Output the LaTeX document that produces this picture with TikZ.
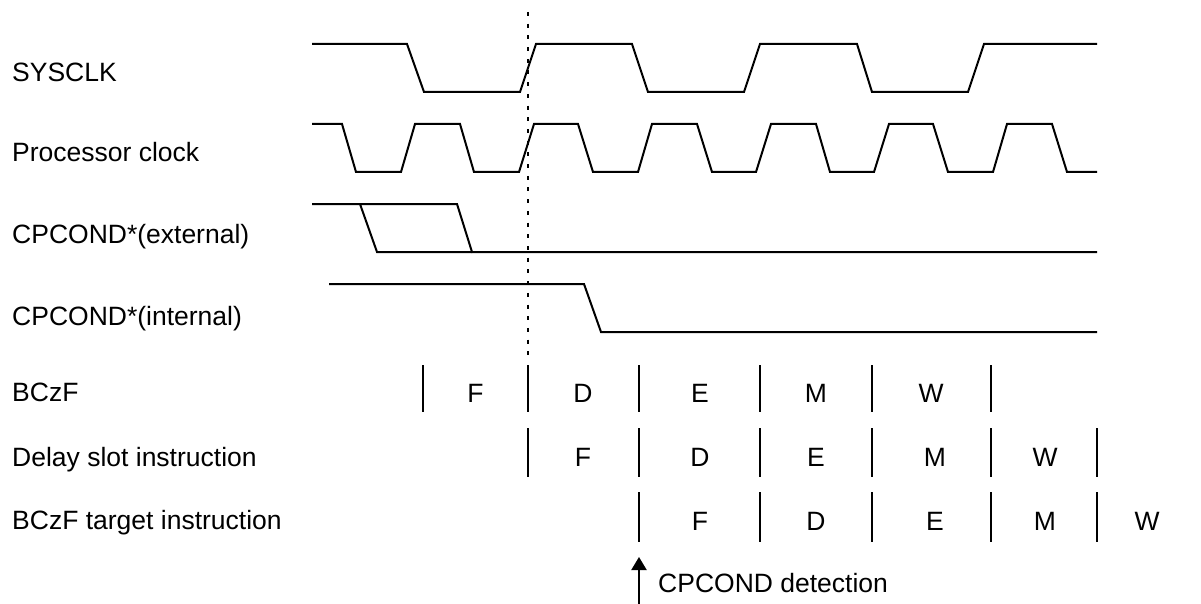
\documentclass[tikz,border=0pt]{standalone}
\usepackage{fontspec}
\setmainfont{Liberation Sans}
\usetikzlibrary{arrows.meta}
\begin{document}
\begin{tikzpicture}[x=1pt,y=-1pt,
  wave/.style={line width=2pt, line join=miter},
  stagebar/.style={line width=2pt},
  lbl/.style={anchor=base west, inner sep=0pt, font=\fontsize{26.5}{30}\selectfont},
  stagetxt/.style={anchor=base, inner sep=0pt, font=\fontsize{26.5}{30}\selectfont}]
\useasboundingbox (0,0) rectangle (1201,604);

% labels
\node[lbl] (lsys) at (12,82) {SYSCLK};
\node[lbl] (lproc) at (12,161.7) {Processor clock};
\node[lbl] (lext) at (12,243) {CPCOND*(external)};
\node[lbl] (lint) at (12,325) {CPCOND*(internal)};
\node[lbl] (lbczf) at (12,401.7) {BCzF};
\node[lbl] (ldelay) at (12,466.7) {Delay slot instruction};
\node[lbl] (ltarget) at (12,529) {BCzF target instruction};

% SYSCLK
\draw[wave] (312,44) -- (407,44) -- (424,92) -- (520,92) -- (536,44) -- (632,44) -- (648,92) -- (744,92) -- (760,44) -- (857,44) -- (872,92) -- (968,92) -- (984,44) -- (1097,44);

% Processor clock
\draw[wave] (312,124) -- (342,124) -- (356,172) -- (401,172) -- (415,124) -- (460,124) -- (474,172) -- (519,172) -- (534,124) -- (578,124) -- (593,172) -- (638,172) -- (652,124) -- (697,124) -- (712,172) -- (756,172) -- (771,124) -- (816,124) -- (830,172) -- (874,172) -- (889,124) -- (933,124) -- (948,172) -- (993,172) -- (1007,124) -- (1052,124) -- (1067,172) -- (1097,172);

% CPCOND external
\draw[wave] (312,204) -- (457,204) -- (472,252) -- (1097,252);
\draw[wave] (360,204) -- (377,252) -- (472,252);

% CPCOND internal
\draw[wave] (329,284) -- (584,284) -- (601,332) -- (1097,332);

% dotted reference line
\draw[line width=2pt, dash pattern=on 4pt off 7.7pt] (528,12) -- (528,362);

% BCzF row
\foreach \x in {423,528,639,760,872,991} \draw[stagebar] (\x,365) -- (\x,412);
\node[stagetxt] (b1) at (475.5,402.7) {F};
\node[stagetxt] (b2) at (583,402.7) {D};
\node[stagetxt] (b3) at (700,402.7) {E};
\node[stagetxt] (b4) at (816,402.7) {M};
\node[stagetxt] (b5) at (931,402.7) {W};

% Delay slot row
\foreach \x in {528,639,760,872,991,1097} \draw[stagebar] (\x,428) -- (\x,477);
\node[stagetxt] (d1) at (583,466.7) {F};
\node[stagetxt] (d2) at (700,466.7) {D};
\node[stagetxt] (d3) at (816,466.7) {E};
\node[stagetxt] (d4) at (935,466.7) {M};
\node[stagetxt] (d5) at (1045,466.7) {W};

% Target row
\foreach \x in {639,760,872,991,1097} \draw[stagebar] (\x,492) -- (\x,542);
\node[stagetxt] (t1) at (700,530) {F};
\node[stagetxt] (t2) at (816,530) {D};
\node[stagetxt] (t3) at (935,530) {E};
\node[stagetxt] (t4) at (1045,530) {M};
\node[stagetxt] (t5) at (1147,530) {W};

% detection arrow
\coordinate (arrS) at (639,604);
\coordinate (arrE) at (639,557);
\draw[line width=2pt, -{Triangle[width=15pt,length=13pt]}] (arrS) -- (arrE);
\node[lbl] (det) at (658,592) {CPCOND detection};
\end{tikzpicture}
\end{document}
